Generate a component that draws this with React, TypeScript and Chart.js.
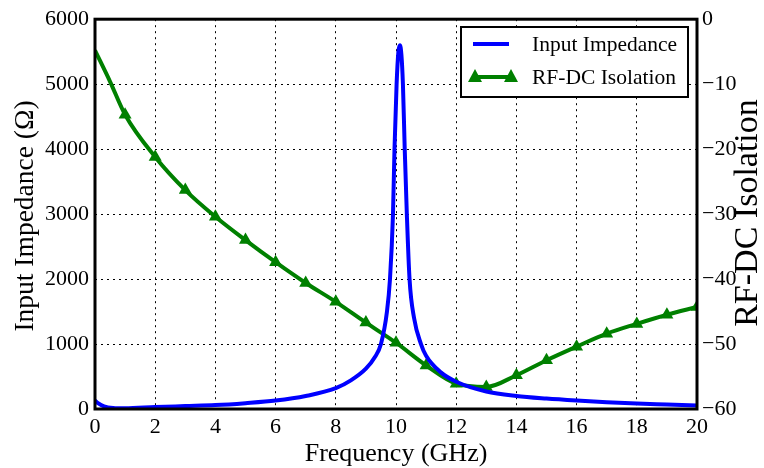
import React, { useEffect, useRef } from "react";
import { Chart, registerables } from "chart.js";
Chart.register(...registerables);

const SERIF = "'Liberation Serif', 'Times New Roman', serif";

// Input impedance (Ω) vs frequency (GHz)
const impFreq = [0, 0.1, 0.3, 0.6, 1, 2, 3, 4, 5, 6, 7, 8, 8.5, 9, 9.3, 9.5, 9.7, 9.8, 9.9, 9.95, 10.02, 10.08, 10.13, 10.18, 10.23, 10.29, 10.36, 10.45, 10.6, 10.83, 11, 11.5, 12, 13, 14, 15, 16, 17, 18, 19, 20];
const impVal = [130, 90, 40, 15, 10, 30, 45, 60, 90, 130, 200, 320, 440, 620, 800, 1000, 1500, 2000, 3000, 4000, 5000, 5500, 5600, 5450, 5000, 4000, 3000, 2000, 1400, 1000, 820, 560, 420, 270, 200, 160, 130, 105, 85, 70, 55];

// RF-DC isolation (dB) vs frequency (GHz)
const isoFreq = [0, 0.5, 1, 2, 3, 4, 5, 6, 7, 8, 9, 10, 11, 12, 13, 14, 15, 16, 17, 18, 19, 20];
const isoVal = [-4.8, -9.6, -14.7, -21.2, -26.3, -30.4, -34.0, -37.4, -40.6, -43.5, -46.7, -49.8, -53.3, -56.1, -56.6, -54.8, -52.5, -50.4, -48.4, -46.9, -45.5, -44.3];

const xTicks = [0, 2, 4, 6, 8, 10, 12, 14, 16, 18, 20];
const xTitle = "Frequency (GHz)";
const yTitle = "Input Impedance (Ω)";
const y1Title = "RF-DC Isolation";
const legendLabels = ["Input Impedance", "RF-DC Isolation"];

const framePlugin = {
  id: "frame",
  afterDraw(chart: any) {
    const { ctx, chartArea: a } = chart;
    ctx.save();
    ctx.strokeStyle = "#000";
    ctx.lineWidth = 3;
    ctx.strokeRect(a.left, a.top, a.right - a.left, a.bottom - a.top);

    // axis titles
    ctx.fillStyle = "#000";
    ctx.textBaseline = "alphabetic";
    ctx.textAlign = "center";
    ctx.font = `26px ${SERIF}`;
    ctx.fillText(xTitle, (a.left + a.right) / 2, 461);
    ctx.save();
    ctx.translate(33, 216);
    ctx.rotate(-Math.PI / 2);
    ctx.font = `27.5px ${SERIF}`;
    ctx.fillText(yTitle, 0, 0);
    ctx.restore();
    ctx.save();
    ctx.translate(757, 213);
    ctx.rotate(-Math.PI / 2);
    ctx.font = `34px ${SERIF}`;
    ctx.fillText(y1Title, 0, 0);
    ctx.restore();

    // legend
    const lx = 461, ly = 27, lw = 227, lh = 70;
    ctx.fillStyle = "#fff";
    ctx.fillRect(lx, ly, lw, lh);
    ctx.strokeStyle = "#000";
    ctx.lineWidth = 2;
    ctx.strokeRect(lx, ly, lw, lh);
    ctx.lineWidth = 4;
    ctx.strokeStyle = "#0000ff";
    ctx.beginPath();
    ctx.moveTo(473, 44);
    ctx.lineTo(509, 44);
    ctx.stroke();
    ctx.strokeStyle = "#008000";
    ctx.beginPath();
    ctx.moveTo(475, 77);
    ctx.lineTo(511, 77);
    ctx.stroke();
    ctx.fillStyle = "#008000";
    for (const cx of [475, 511]) {
      ctx.beginPath();
      ctx.moveTo(cx, 69);
      ctx.lineTo(cx - 7, 82);
      ctx.lineTo(cx + 7, 82);
      ctx.closePath();
      ctx.fill();
    }
    ctx.fillStyle = "#000";
    ctx.font = `21.5px ${SERIF}`;
    ctx.textBaseline = "middle";
    ctx.textAlign = "left";
    ctx.fillText(legendLabels[0], 532, 45);
    ctx.fillText(legendLabels[1], 532, 78);
    ctx.restore();
  },
};

export default function App() {
  const ref = useRef<HTMLCanvasElement>(null);
  useEffect(() => {
    const chart = new Chart(ref.current!, {
      type: "line",
      data: {
        datasets: [
          {
            label: legendLabels[0],
            data: impFreq.map((x, i) => ({ x, y: impVal[i] })),
            yAxisID: "y",
            borderColor: "#0000ff",
            backgroundColor: "#0000ff",
            borderWidth: 4,
            pointRadius: 0,
            cubicInterpolationMode: "monotone",
            fill: false,
          },
          {
            label: legendLabels[1],
            data: isoFreq.map((x, i) => ({ x, y: isoVal[i] })),
            yAxisID: "y1",
            borderColor: "#008000",
            backgroundColor: "#008000",
            borderWidth: 4,
            pointStyle: "triangle",
            pointRadius: isoFreq.map((f) => (Number.isInteger(f) && f > 0 ? 7.5 : 0)),
            pointBorderWidth: 0,
            cubicInterpolationMode: "monotone",
            fill: false,
          },
        ],
      } as any,
      options: {
        responsive: false,
        animation: false,
        layout: { padding: { top: 16, left: 0, right: 0, bottom: 0 } },
        plugins: { legend: { display: false }, tooltip: { enabled: false } },
        scales: {
          x: {
            type: "linear",
            min: 0,
            max: 20,
            afterBuildTicks: (s: any) => {
              s.ticks = xTicks.map((v) => ({ value: v }));
            },
            ticks: { color: "#000", font: { family: SERIF, size: 22 }, padding: 5, maxRotation: 0, callback: (v: any) => String(v) },
            grid: { color: "#000", lineWidth: 1, drawTicks: false },
            border: { display: false, dash: [2, 4] },
            title: { display: false },
            afterFit: (s: any) => {
              s.height = 59;
            },
          },
          y: {
            type: "linear",
            position: "left",
            min: 0,
            max: 6000,
            ticks: { stepSize: 1000, color: "#000", font: { family: SERIF, size: 22 }, padding: 6, callback: (v: any) => String(v) },
            grid: { color: "#000", lineWidth: 1, drawTicks: false },
            border: { display: false, dash: [2, 4] },
            title: { display: false },
            afterFit: (s: any) => {
              s.width = 95;
            },
          },
          y1: {
            type: "linear",
            position: "right",
            min: -60,
            max: 0,
            ticks: {
              stepSize: 10,
              color: "#000",
              font: { family: SERIF, size: 22 },
              padding: 5,
              callback: (v: any) => (v < 0 ? "\u2212" + Math.abs(v) : String(v)),
            },
            grid: { display: false, drawTicks: false },
            border: { display: false },
            title: { display: false },
            afterFit: (s: any) => {
              s.width = 67;
            },
          },
        },
      } as any,
      plugins: [framePlugin],
    });
    return () => chart.destroy();
  }, []);
  return (
    <div style={{ position: "absolute", left: 0, top: 0, width: 764, height: 468, background: "#fff" }}>
      <canvas ref={ref} width={764} height={468} style={{ display: "block" }} />
    </div>
  );
}
